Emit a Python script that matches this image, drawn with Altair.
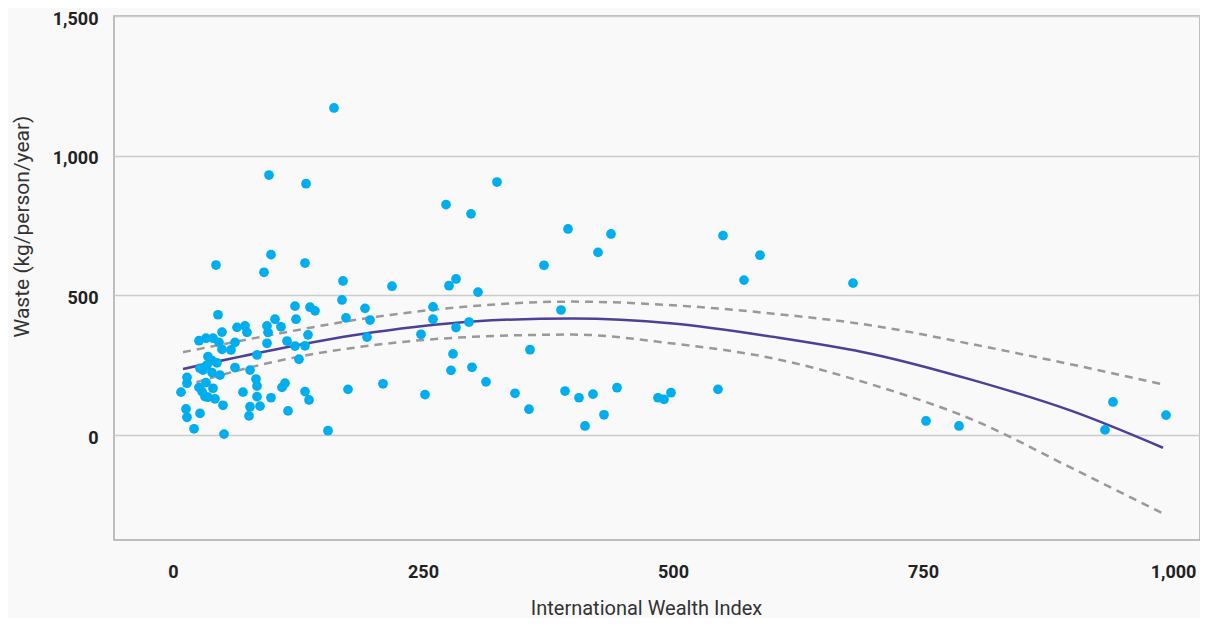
import altair as alt
import pandas as pd

# International Wealth Index (x) and waste in kg/person/year (y)
wealth = [8, 14, 14, 13, 14, 21, 26, 33, 40, 46, 45, 49, 49, 58, 62, 64, 72, 74,
          35, 39, 44, 34, 27, 30, 62, 77, 39, 47, 33, 26, 40, 29, 32, 35, 42, 70,
          50, 77, 27, 76, 51, 43, 84, 83, 84, 84, 87, 94, 95, 102, 108, 94, 114,
          122, 132, 126, 135, 122, 123, 137, 142, 169, 173, 192, 194, 112, 109,
          98, 132, 136, 175, 115, 155, 98, 91, 132, 170, 96, 133, 161, 219, 197,
          260, 260, 248, 273, 276, 283, 298, 305, 324, 296, 283, 280, 278, 299,
          313, 342, 356, 357, 371, 252, 210, 395, 438, 425, 388, 392, 406, 420,
          431, 412, 444, 485, 491, 498, 545, 550, 587, 571, 680, 753, 786, 940,
          932, 993]
waste = [154, 207, 186, 94, 64, 23, 338, 347, 347, 332, 431, 369, 307, 305, 332,
         386, 391, 368, 281, 267, 259, 251, 239, 233, 242, 233, 224, 215, 188,
         171, 168, 156, 138, 136, 130, 154, 107, 102, 78, 69, 4, 609, 287, 201,
         176, 138, 104, 391, 368, 415, 388, 329, 337, 319, 320, 272, 359, 462,
         415, 458, 445, 484, 420, 454, 351, 186, 171, 134, 156, 126, 164, 87, 16,
         646, 583, 616, 552, 931, 900, 1171, 533, 412, 459, 415, 361, 825, 535,
         559, 792, 512, 906, 405, 385, 291, 232, 243, 191, 150, 93, 306, 608,
         145, 184, 738, 720, 654, 448, 158, 134, 147, 73, 33, 170, 134, 128, 152,
         164, 714, 644, 555, 544, 51, 33, 119, 19, 72]

# fitted curve and its band
curve_x = [10, 100, 200, 300, 400, 500, 600, 700, 800, 900, 990]
fit_y = [237, 305, 368, 407, 418, 400, 352, 290, 197, 85, -45]
upper_y = [297, 360, 422, 462, 478, 465, 435, 392, 325, 252, 182]
lower_y = [176, 262, 322, 352, 360, 328, 275, 180, 55, -120, -280]

x_ticks = [0, 250, 500, 750, 1000]
y_ticks = [0, 500, 1000, 1500]

pts = pd.DataFrame({"wealth": wealth, "waste": waste})
curve = pd.DataFrame({"wealth": curve_x, "fit": fit_y})
band = pd.DataFrame({
    "wealth": curve_x * 2,
    "value": upper_y + lower_y,
    "side": ["upper"] * len(curve_x) + ["lower"] * len(curve_x),
})

FONT = "Roboto"
xscale = alt.Scale(domain=[-59, 1027], nice=False, zero=False)
yscale = alt.Scale(domain=[-375, 1500], nice=False, zero=False)

xaxis = alt.Axis(values=x_ticks, format=",.0f", grid=False, ticks=False, domain=False,
                 labelFont=FONT, labelFontSize=18, labelFontWeight="bold",
                 labelColor="#222222", labelPadding=37, labelBaseline="alphabetic",
                 title="International Wealth Index", titleFont=FONT,
                 titleFontSize=20, titleFontWeight="normal", titleColor="#333333",
                 titleX=532, titleY=74, titleBaseline="alphabetic", titleAlign="center")
yaxis = alt.Axis(values=y_ticks, format=",.0f", grid=True, gridColor="#cccccc",
                 gridWidth=1.5, ticks=False, domain=False,
                 labelFont=FONT, labelFontSize=18, labelFontWeight="bold",
                 labelColor="#222222", labelPadding=16, labelBaseline="middle",
                 labelOffset=3,
                 title="Waste (kg/person/year)", titleFont=FONT,
                 titleFontSize=21, titleFontWeight="normal", titleColor="#333333",
                 titleX=-92, titleY=210, titleAngle=270, titleBaseline="middle",
                 titleAlign="center")

X = alt.X("wealth:Q", scale=xscale, axis=xaxis)

bands = alt.Chart(band).mark_line(color="#999999", strokeWidth=2.5,
                                  strokeDash=[8, 6], interpolate="monotone").encode(
    x=X,
    y=alt.Y("value:Q", scale=yscale, axis=yaxis),
    detail="side:N",
)

fit = alt.Chart(curve).mark_line(color="#4E3F9B", strokeWidth=2.5,
                                 interpolate="monotone").encode(
    x=X,
    y=alt.Y("fit:Q", scale=yscale, axis=yaxis),
)

points = alt.Chart(pts).mark_circle(size=95, opacity=1, color="#00AEEF").encode(
    x=X,
    y=alt.Y("waste:Q", scale=yscale, axis=yaxis),
)

chart = alt.layer(bands, fit, points).properties(
    width=1086,
    height=524,
    autosize=alt.AutoSizeParams(type="none"),
    padding={"left": 106, "top": 8, "right": 0, "bottom": 78},
    background="#f9f9f9",
).configure_view(stroke="#aaaaaa", strokeWidth=1.5)

chart.save("out.html", embed_options={"renderer": "svg", "actions": False})
